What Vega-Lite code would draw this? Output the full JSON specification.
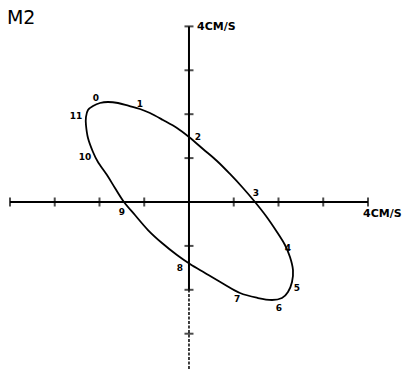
{
  "$schema": "https://vega.github.io/schema/vega-lite/v6.json",
  "width": 402,
  "height": 369,
  "autosize": "none",
  "padding": 0,
  "background": "white",
  "config": {"view": {"stroke": null}},
  "datasets": {
    "ellipse": [
      {"i": 1, "u": -1.989, "v": 2.255},
      {"i": 2, "u": -1.810, "v": 2.278},
      {"i": 3, "u": -1.587, "v": 2.255},
      {"i": 4, "u": -1.341, "v": 2.187},
      {"i": 5, "u": -1.095, "v": 2.118},
      {"i": 6, "u": -0.872, "v": 2.027},
      {"i": 7, "u": -0.581, "v": 1.868},
      {"i": 8, "u": -0.268, "v": 1.686},
      {"i": 9, "u": 0.0, "v": 1.481},
      {"i": 10, "u": 0.313, "v": 1.207},
      {"i": 11, "u": 0.626, "v": 0.934},
      {"i": 12, "u": 0.916, "v": 0.638},
      {"i": 13, "u": 1.207, "v": 0.319},
      {"i": 14, "u": 1.475, "v": 0.0},
      {"i": 15, "u": 1.721, "v": -0.319},
      {"i": 16, "u": 1.966, "v": -0.683},
      {"i": 17, "u": 2.145, "v": -0.979},
      {"i": 18, "u": 2.257, "v": -1.253},
      {"i": 19, "u": 2.324, "v": -1.549},
      {"i": 20, "u": 2.302, "v": -1.822},
      {"i": 21, "u": 2.212, "v": -2.050},
      {"i": 22, "u": 2.078, "v": -2.187},
      {"i": 23, "u": 1.855, "v": -2.232},
      {"i": 24, "u": 1.542, "v": -2.187},
      {"i": 25, "u": 1.140, "v": -2.073},
      {"i": 26, "u": 0.737, "v": -1.845},
      {"i": 27, "u": 0.358, "v": -1.617},
      {"i": 28, "u": 0.022, "v": -1.412},
      {"i": 29, "u": -0.268, "v": -1.207},
      {"i": 30, "u": -0.603, "v": -0.934},
      {"i": 31, "u": -0.916, "v": -0.638},
      {"i": 32, "u": -1.207, "v": -0.296},
      {"i": 33, "u": -1.453, "v": 0.0},
      {"i": 34, "u": -1.654, "v": 0.319},
      {"i": 35, "u": -1.832, "v": 0.615},
      {"i": 36, "u": -2.034, "v": 0.911},
      {"i": 37, "u": -2.145, "v": 1.139},
      {"i": 38, "u": -2.257, "v": 1.458},
      {"i": 39, "u": -2.302, "v": 1.754},
      {"i": 40, "u": -2.302, "v": 1.936},
      {"i": 41, "u": -2.257, "v": 2.096},
      {"i": 42, "u": -2.145, "v": 2.187}
    ],
    "hours": [
      {"h": "0", "u": -2.078, "v": 2.369},
      {"h": "1", "u": -1.095, "v": 2.232},
      {"h": "2", "u": 0.201, "v": 1.481},
      {"h": "3", "u": 1.497, "v": 0.205},
      {"h": "4", "u": 2.212, "v": -1.048},
      {"h": "5", "u": 2.413, "v": -1.959},
      {"h": "6", "u": 2.011, "v": -2.415},
      {"h": "7", "u": 1.073, "v": -2.210},
      {"h": "8", "u": -0.201, "v": -1.503},
      {"h": "9", "u": -1.497, "v": -0.228},
      {"h": "10", "u": -2.324, "v": 1.025},
      {"h": "11", "u": -2.525, "v": 1.959}
    ],
    "axes": [
      {"part": "main", "u1": -4, "u2": 4, "v1": 0, "v2": 0},
      {"part": "main", "u1": 0, "u2": 0, "v1": -2, "v2": 4},
      {"part": "lower", "u1": 0, "u2": 0, "v1": -3.804, "v2": -2}
    ],
    "xticks": [
      {"u": -4}, {"u": -3}, {"u": -2}, {"u": -1}, {"u": 1}, {"u": 2}, {"u": 3}, {"u": 4}
    ],
    "yticks": [
      {"v": -3}, {"v": -2}, {"v": -1}, {"v": 1}, {"v": 2}, {"v": 3}, {"v": 4}
    ],
    "labels": [
      {"t": "4CM/S", "u": 0, "v": 4, "kind": "top"},
      {"t": "4CM/S", "u": 4, "v": 0, "kind": "right"}
    ],
    "title": [
      {"t": "M2", "u": -4.067, "v": 4.055}
    ]
  },
  "layer": [
    {
      "data": {"name": "axes"},
      "transform": [{"filter": "datum.part == 'main'"}],
      "mark": {"type": "rule", "color": "black", "strokeWidth": 2},
      "encoding": {
        "x": {"field": "u1", "type": "quantitative", "scale": {"domain": [-4.223, 4.76], "nice": false, "zero": false}, "axis": null},
        "x2": {"field": "u2"},
        "y": {"field": "v1", "type": "quantitative", "scale": {"domain": [-3.804, 4.601], "nice": false, "zero": false}, "axis": null},
        "y2": {"field": "v2"}
      }
    },
    {
      "data": {"name": "axes"},
      "transform": [{"filter": "datum.part == 'lower'"}],
      "mark": {"type": "rule", "color": "black", "strokeWidth": 1.5, "strokeDash": [3, 1.5]},
      "encoding": {
        "x": {"field": "u1", "type": "quantitative"},
        "x2": {"field": "u2"},
        "y": {"field": "v1", "type": "quantitative"},
        "y2": {"field": "v2"}
      }
    },
    {
      "data": {"name": "xticks"},
      "mark": {"type": "tick", "orient": "vertical", "color": "black", "size": 9, "thickness": 2},
      "encoding": {
        "x": {"field": "u", "type": "quantitative"},
        "y": {"datum": 0, "type": "quantitative"}
      }
    },
    {
      "data": {"name": "yticks"},
      "mark": {"type": "tick", "orient": "horizontal", "color": "black", "size": 9, "thickness": 2},
      "encoding": {
        "x": {"datum": 0, "type": "quantitative"},
        "y": {"field": "v", "type": "quantitative"}
      }
    },
    {
      "data": {"name": "ellipse"},
      "mark": {"type": "line", "color": "black", "strokeWidth": 1.8, "interpolate": "cardinal-closed"},
      "encoding": {
        "x": {"field": "u", "type": "quantitative"},
        "y": {"field": "v", "type": "quantitative"},
        "order": {"field": "i", "type": "quantitative"}
      }
    },
    {
      "data": {"name": "hours"},
      "mark": {"type": "text", "font": "DejaVu Sans", "fontSize": 9, "fontWeight": "bold", "align": "center", "baseline": "middle", "color": "black"},
      "encoding": {
        "x": {"field": "u", "type": "quantitative"},
        "y": {"field": "v", "type": "quantitative"},
        "text": {"field": "h"}
      }
    },
    {
      "data": {"name": "labels"},
      "transform": [{"filter": "datum.kind == 'top'"}],
      "mark": {"type": "text", "font": "DejaVu Sans", "fontSize": 11, "fontWeight": "bold", "align": "left", "baseline": "middle", "dx": 8, "dy": 1, "color": "black"},
      "encoding": {
        "x": {"field": "u", "type": "quantitative"},
        "y": {"field": "v", "type": "quantitative"},
        "text": {"field": "t"}
      }
    },
    {
      "data": {"name": "labels"},
      "transform": [{"filter": "datum.kind == 'right'"}],
      "mark": {"type": "text", "font": "DejaVu Sans", "fontSize": 11, "fontWeight": "bold", "align": "left", "baseline": "alphabetic", "dx": -5, "dy": 15, "color": "black"},
      "encoding": {
        "x": {"field": "u", "type": "quantitative"},
        "y": {"field": "v", "type": "quantitative"},
        "text": {"field": "t"}
      }
    },
    {
      "data": {"name": "title"},
      "mark": {"type": "text", "font": "DejaVu Sans", "fontSize": 19, "align": "left", "baseline": "alphabetic", "color": "black"},
      "encoding": {
        "x": {"field": "u", "type": "quantitative"},
        "y": {"field": "v", "type": "quantitative"},
        "text": {"field": "t"}
      }
    }
  ]
}
